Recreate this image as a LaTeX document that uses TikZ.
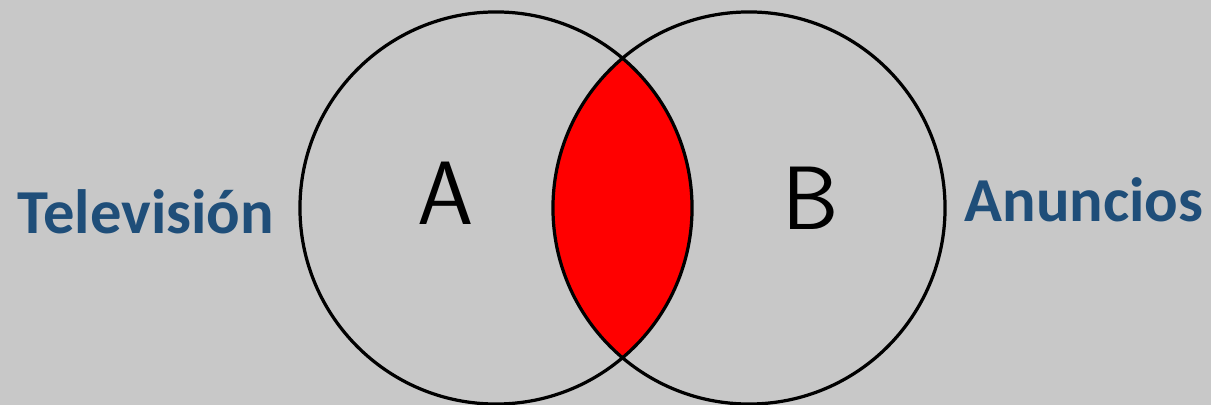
\documentclass[tikz,border=0pt]{standalone}
\usepackage{fontspec}
\usepackage{tikz}
\usepackage{xcolor}
\newfontfamily\vnlabfont{Carlito}
\usetikzlibrary{positioning}
\definecolor{vnblue}{RGB}{31,78,121}
\definecolor{vngray}{RGB}{200,200,200}
\definecolor{vnred}{RGB}{255,0,0}
\tikzset{
  vncircle/.style={draw=black, line width=2.3pt, circle, minimum size=9.8cm, inner sep=0pt, outer sep=0pt},
  vnletter/.style={font=\fontsize{64}{72}\selectfont\sffamily, text=black, inner sep=0pt},
  vnlabel/.style={font=\vnlabfont\bfseries\fontsize{44.5}{52}\selectfont, text=vnblue, inner sep=0pt}
}

\begin{document}
\begin{tikzpicture}[x=0.025cm, y=-0.025cm]
  \fill[vngray] (0,0) rectangle (1211,405);
  \useasboundingbox (0,0) rectangle (1211,405);
  % lens between the two sets
  \begin{scope}
    \clip (496,208) circle [radius=4.9cm];
    \fill[vnred] (749,208) circle [radius=4.9cm];
  \end{scope}
  \node[vncircle] (setA) at (496,208) {};
  \node[vncircle] (setB) at (749,208) {};
  \node[vnletter] (letA) at (446,193) {A};
  \node[vnletter] (letB) at (811,198) {B};
  \node[vnlabel] (tv) at (146,212) {Televisión};
  \node[vnlabel] (ads) at (1084,200) {Anuncios};
\end{tikzpicture}
\end{document}
